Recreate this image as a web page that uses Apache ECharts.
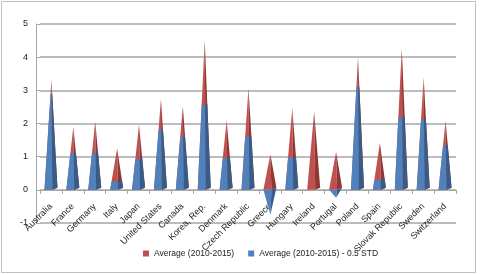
<!DOCTYPE html>
<html>
<head>
<meta charset="utf-8">
<script src="https://cdn.jsdelivr.net/npm/echarts@6/dist/echarts.min.js"></script>
<style>
  html, body { margin: 0; padding: 0; background: #fff; }
  #chart { width: 482px; height: 274px; }
</style>
</head>
<body>
<div id="chart"></div>
<script>
const countries = ["Australia", "France", "Germany", "Italy", "Japan", "United States", "Canada",
  "Korea, Rep.", "Denmark", "Czech Republic", "Greece", "Hungary", "Ireland", "Portugal",
  "Poland", "Spain", "Slovak Republic", "Sweden", "Switzerland"];
const avgValues = [3.31, 1.9, 2.06, 1.25, 1.96, 2.73, 2.53, 4.52, 2.1, 3.06, 1.07, 2.46, 2.36, 1.15,
  4.0, 1.41, 4.27, 3.39, 2.09];
const lowValues = [2.89, 1.1, 1.1, 0.25, 0.93, 1.81, 1.6, 2.56, 0.95, 1.6, -0.75, 0.97, 0.0, -0.24,
  3.09, 0.3, 2.18, 2.11, 1.33];
const yTicks = [-1, 0, 1, 2, 3, 4, 5];

const RED = "#C0504D", RED_DARK = "#8E3735";
const BLUE = "#4F81BD", BLUE_DARK = "#375C8A";

function lerp(a, b, t) { return [a[0] + (b[0] - a[0]) * t, a[1] + (b[1] - a[1]) * t]; }

// pyramid corners for one category, from 0 up (or down) to value
function pyramid(api, idx, value) {
  const base = api.coord([idx, 0]);
  const tip = api.coord([idx, value]);
  const hw = 6.5;
  const L = [base[0] - hw, base[1]];
  const M = [base[0] + 1.5, base[1]];
  const R = [base[0] + hw, base[1] - 2];
  const A = [base[0] + 0.5, tip[1]];
  return { L, M, R, A };
}

function face(points, fill) {
  return { type: "polygon", shape: { points }, style: { fill, stroke: null } };
}

function renderAvg(params, api) {
  const idx = api.value(0), v = api.value(1);
  const p = pyramid(api, idx, v);
  return { type: "group", children: [
    face([p.L, p.M, p.A], RED),
    face([p.M, p.R, p.A], RED_DARK)
  ] };
}

function renderLow(params, api) {
  const idx = api.value(0), low = api.value(1), avg = api.value(2);
  if (low === 0) return null;
  if (low < 0) {
    const p = pyramid(api, idx, low);
    return { type: "group", children: [
      face([p.L, p.M, p.A], BLUE),
      face([p.M, p.R, p.A], BLUE_DARK)
    ] };
  }
  // lower part of the same pyramid
  const p = pyramid(api, idx, avg);
  const t = Math.min(low / avg, 1);
  const Lt = lerp(p.L, p.A, t), Mt = lerp(p.M, p.A, t), Rt = lerp(p.R, p.A, t);
  return { type: "group", children: [
    face([p.L, p.M, Mt, Lt], BLUE),
    face([p.M, p.R, Rt, Mt], BLUE_DARK)
  ] };
}

const chart = echarts.init(document.getElementById("chart"));
chart.setOption({
  animation: false,
  textStyle: { fontFamily: "Liberation Sans, Arial, sans-serif" },
  graphic: [{
    type: "rect", shape: { x: 1.5, y: 1.5, width: 474, height: 271 },
    style: { fill: null, stroke: "#c0c0c0", lineWidth: 1 }
  }],
  grid: { left: 40, right: 26, top: 24, bottom: 51, containLabel: false, outerBoundsMode: "none" },
  legend: {
    left: 138, top: 244,
    itemWidth: 6, itemHeight: 6, itemGap: 14,
    textStyle: { fontSize: 8.5, color: "#222" },
    data: [
      { name: "Average (2010-2015)", icon: "rect", itemStyle: { color: RED } },
      { name: "Average (2010-2015) - 0.5 STD", icon: "rect", itemStyle: { color: BLUE } }
    ]
  },
  xAxis: {
    type: "category",
    data: countries,
    axisLine: { onZero: true, lineStyle: { color: "#a6a6a6", width: 1 } },
    axisTick: { show: true, length: 4, lineStyle: { color: "#a6a6a6" } },
    axisLabel: { rotate: 45, fontSize: 9, color: "#222", margin: -18, interval: 0 }
  },
  yAxis: {
    type: "value",
    min: -1, max: 5, interval: 1,
    offset: 4,
    axisLine: { show: true, lineStyle: { color: "#a6a6a6" } },
    axisTick: { show: true, inside: true, length: 4, lineStyle: { color: "#a6a6a6" } },
    axisLabel: {
      fontSize: 9, color: "#222", margin: 8,
      formatter: v => (yTicks.indexOf(v) >= 0 ? String(v) : "")
    },
    splitLine: { lineStyle: { color: "#a6a6a6", width: 1.5 } }
  },
  series: [
    {
      name: "Average (2010-2015)",
      type: "custom",
      renderItem: renderAvg,
      itemStyle: { color: RED },
      data: countries.map((c, i) => [i, avgValues[i]]),
      z: 2
    },
    {
      name: "Average (2010-2015) - 0.5 STD",
      type: "custom",
      renderItem: renderLow,
      itemStyle: { color: BLUE },
      data: countries.map((c, i) => [i, lowValues[i], avgValues[i]]),
      z: 3
    }
  ]
});
</script>
</body>
</html>
